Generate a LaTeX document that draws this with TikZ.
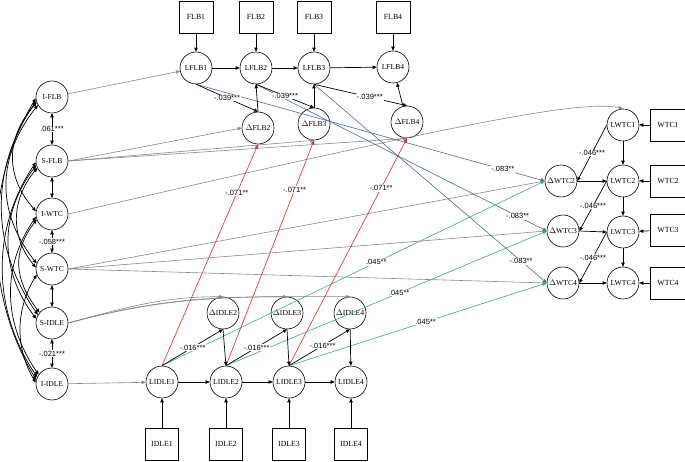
\documentclass[tikz,border=0pt]{standalone}
\usepackage{fontspec}
\setmainfont{Liberation Serif}
\newfontfamily\labfont{Liberation Sans}
\usetikzlibrary{arrows.meta}
\definecolor{lgray}{RGB}{135,135,135}
\definecolor{lblue}{RGB}{70,105,165}
\definecolor{lred}{RGB}{230,35,35}
\definecolor{lgreen}{RGB}{45,180,115}
\begin{document}
\begin{tikzpicture}[x=1pt,y=1pt,
 >={Triangle[length=4pt,width=3.4pt]},
 lat/.style={circle,draw,line width=0.6pt,minimum size=32pt,inner sep=0pt,font=\fontsize{7.6}{8}\selectfont},
 obs/.style={rectangle,draw,line width=0.6pt,minimum width=34pt,minimum height=32pt,inner sep=0pt,font=\fontsize{7.8}{8}\selectfont},
 blk/.style={->,line width=0.7pt,black},
 gry/.style={->,line width=0.6pt,lgray},
 blu/.style={->,line width=0.6pt,lblue},
 rd/.style={->,line width=0.6pt,lred},
 grn/.style={->,line width=0.6pt,lgreen},
 cov/.style={<->,line width=0.7pt,black},
 lab/.style={fill=white,text=black,inner sep=0.8pt,font=\labfont\fontsize{7.5}{8}\selectfont}]
\useasboundingbox (0,0) rectangle (685,-462);
% left latent factors
\node[lat] (ifl) at (52,-97) {I-FLB};
\node[lat] (sfl) at (52,-161) {S-FLB};
\node[lat] (iwt) at (52,-214) {I-WTC};
\node[lat] (swt) at (52,-269) {S-WTC};
\node[lat] (sid) at (52,-323) {S-IDLE};
\node[lat] (iid) at (52,-384) {I-IDLE};
% FLB
\node[obs] (f1) at (196,-17) {FLB1};
\node[obs] (f2) at (256,-17) {FLB2};
\node[obs] (f3) at (314,-17) {FLB3};
\node[obs] (f4) at (393,-17) {FLB4};
\node[lat] (lf1) at (196,-68) {LFLB1};
\node[lat] (lf2) at (256,-68) {LFLB2};
\node[lat] (lf3) at (314,-68) {LFLB3};
\node[lat] (lf4) at (393,-67) {LFLB4};
\node[lat] (df2) at (258,-128) {$\Delta$FLB2};
\node[lat] (df3) at (314,-124) {$\Delta$FLB3};
\node[lat] (df4) at (407,-122) {$\Delta$FLB4};
% WTC
\node[obs,minimum width=36pt] (w1) at (668,-125) {WTC1};
\node[obs,minimum width=36pt] (w2) at (668,-181) {WTC2};
\node[obs,minimum width=36pt] (w3) at (668,-230) {WTC3};
\node[obs,minimum width=36pt] (w4) at (668,-283) {WTC4};
\node[lat] (lw1) at (623,-125) {LWTC1};
\node[lat] (lw2) at (623,-181) {LWTC2};
\node[lat] (lw3) at (623,-232) {LWTC3};
\node[lat] (lw4) at (623,-283) {LWTC4};
\node[lat] (dw2) at (561,-181) {$\Delta$WTC2};
\node[lat] (dw3) at (563,-231) {$\Delta$WTC3};
\node[lat] (dw4) at (563,-283) {$\Delta$WTC4};
% IDLE
\node[obs,minimum width=33pt] (i1) at (162,-444) {IDLE1};
\node[obs,minimum width=33pt] (i2) at (226,-444) {IDLE2};
\node[obs,minimum width=33pt] (i3) at (289,-444) {IDLE3};
\node[obs,minimum width=33pt] (i4) at (351,-444) {IDLE4};
\node[lat] (li1) at (162,-382) {LIDLE1};
\node[lat] (li2) at (226,-382) {LIDLE2};
\node[lat] (li3) at (289,-382) {LIDLE3};
\node[lat] (li4) at (351,-382) {LIDLE4};
\node[lat] (di2) at (223,-313) {$\Delta$IDLE2};
\node[lat] (di3) at (287,-313) {$\Delta$IDLE3};
\node[lat] (di4) at (350,-313) {$\Delta$IDLE4};
% gray paths from growth factors
\draw[gry] (ifl) -- (lf1);
\draw[gry] (sfl.east) -- (df2.west);
\draw[gry] (sfl.east) -- (df3.south);
\draw[gry] (sfl.east) -- (df4.south);
\draw[gry] (iwt.east) .. controls (480,-118) and (585,-100) .. (lw1.north);
\draw[gry] (swt.east) -- (dw2.west);
\draw[gry] (swt.east) -- (dw3.west);
\draw[gry] (swt.east) -- (dw4.west);
\draw[gry] (sid.east) to[out=15,in=180] (di2.north);
\draw[gry] (sid.east) to[out=15,in=180] (di3.north);
\draw[gry] (sid.east) to[out=15,in=180] (di4.north);
\draw[gry] (iid) -- (li1);
% blue
\draw[blu] (lf1.south) -- node[lab,pos=0.88]{-.083**} (dw2.west);
\draw[blu] (lf2.south) -- node[lab,pos=0.90]{-.083**} (dw3.west);
\draw[blu] (lf3.south) -- node[lab,pos=0.89]{-.083**} (dw4.west);
% red
\draw[rd] (li1.north) -- node[lab,pos=0.78]{-.071**} (df2.south);
\draw[rd] (li2.north) -- node[lab,pos=0.78]{-.071**} (df3.south);
\draw[rd] (li3.north) -- node[lab,pos=0.78]{-.071**} (df4.south);
% green
\draw[grn] (li1.north) -- node[lab,pos=0.56]{.045**} (dw2.west);
\draw[grn] (li2.north) -- node[lab,pos=0.54]{.045**} (dw3.west);
\draw[grn] (li3.north) -- node[lab,pos=0.53]{.045**} (dw4.west);
% FLB structure
\foreach \k in {1,2,3,4} {\draw[blk] (f\k) -- (lf\k);}
\draw[blk] (lf1) -- (lf2);
\draw[blk] (lf2) -- (lf3);
\draw[blk] (lf3) -- (lf4);
\draw[blk] (lf1.south) -- node[lab]{-.039***} (df2.north);
\draw[blk] (df2.north) -- (lf2.south);
\draw[blk] (lf2.south) -- node[lab]{-.039***} (df3.north);
\draw[blk] (df3.north) -- (lf3.south);
\draw[blk] (lf3.south) -- node[lab,pos=0.6]{-.039***} (df4.north);
\draw[blk] (df4) -- (lf4);
% IDLE structure
\foreach \k in {1,2,3,4} {\draw[blk] (i\k) -- (li\k);}
\draw[blk] (li1) -- (li2);
\draw[blk] (li2) -- (li3);
\draw[blk] (li3) -- (li4);
\draw[blk] (li1.north) -- node[lab]{-.016***} (di2.south);
\draw[blk] (di2.south) -- (li2.north);
\draw[blk] (li2.north) -- node[lab]{-.016***} (di3.south);
\draw[blk] (di3.south) -- (li3.north);
\draw[blk] (li3.north) -- node[lab,pos=0.55]{-.016***} (di4.south);
\draw[blk] (di4) -- (li4);
% WTC structure
\foreach \k in {1,2,3,4} {\draw[blk] (w\k) -- (lw\k);}
\draw[blk] (lw1) -- (lw2);
\draw[blk] (lw2) -- (lw3);
\draw[blk] (lw3) -- (lw4);
\draw[blk] (lw1.west) -- node[lab]{-.046***} (dw2.east);
\draw[blk] (dw2.east) -- (lw2.west);
\draw[blk] (lw2.west) -- node[lab]{-.046***} (dw3.east);
\draw[blk] (dw3.east) -- (lw3.west);
\draw[blk] (lw3.west) -- node[lab]{-.046***} (dw4.east);
\draw[blk] (dw4.east) -- (lw4.west);
% covariances
\draw[cov] (ifl) -- node[lab]{.061***} (sfl);
\draw[cov] (sfl) -- (iwt);
\draw[cov] (iwt) -- node[lab]{-.058***} (swt);
\draw[cov] (swt) -- (sid);
\draw[cov] (sid) -- node[lab]{-.021***} (iid);
\draw[cov] (ifl.200) .. controls +(-31,-35) and +(-31,35) .. (iwt.170);
\draw[cov] (ifl.210) .. controls +(-41,-52) and +(-41,52) .. (swt.160);
\draw[cov] (ifl.195) .. controls +(-47,-68) and +(-47,68) .. (sid.150);
\draw[cov] (ifl.185) .. controls +(-52,-86) and +(-52,86) .. (iid.165);
\draw[cov] (sfl.205) .. controls +(-26,-32) and +(-26,32) .. (swt.175);
\draw[cov] (sfl.195) .. controls +(-37,-49) and +(-37,49) .. (sid.165);
\draw[cov] (sfl.185) .. controls +(-45,-67) and +(-45,67) .. (iid.155);
\draw[cov] (iwt.200) .. controls +(-25,-33) and +(-25,33) .. (sid.140);
\draw[cov] (iwt.190) .. controls +(-35,-51) and +(-35,51) .. (iid.145);
\draw[cov] (swt.200) .. controls +(-21,-35) and +(-21,35) .. (iid.175);
\end{tikzpicture}
\end{document}
